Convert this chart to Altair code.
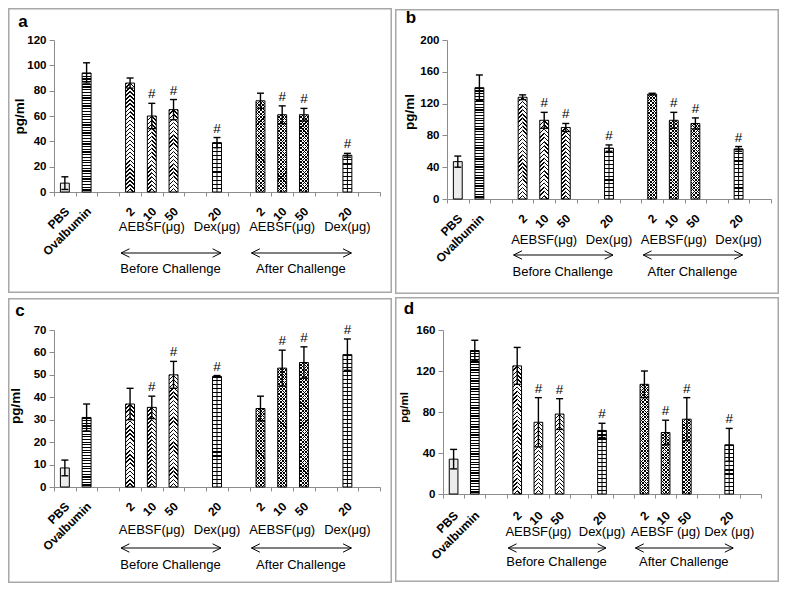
import math
import altair as alt

# ---------------- data ----------------
x_slots = ["PBS", "Ovalbumin", " ", "2", "10", "50", "  ", "20", "   ",
           "2 ", "10 ", "50 ", "    ", "20 ", "     "]
bar_cats = ["PBS", "Ovalbumin", "2", "10", "50", "20", "2 ", "10 ", "50 ", "20 "]
bar_groups = ["pbs", "ova", "bA", "bA", "bA", "dex", "aA", "aA", "aA", "dex"]

a_vals = [7, 94, 86, 60, 65, 39, 72, 61, 61, 29]
a_errs = [5, 8, 4, 10, 8, 4, 6, 7, 5, 1.5]
a_sig = [0, 0, 0, 1, 1, 1, 0, 1, 1, 1]
a_ticks = [0, 20, 40, 60, 80, 100, 120]

b_vals = [47, 140, 128, 99, 90, 64, 132, 99, 95, 63]
b_errs = [7, 16, 3, 10, 5, 4, 1, 10, 7, 3]
b_sig = [0, 0, 0, 1, 1, 1, 0, 1, 1, 1]
b_ticks = [0, 40, 80, 120, 160, 200]

c_vals = [8.5, 31, 37, 35.5, 50, 49.3, 35, 53, 55.5, 59]
c_errs = [3.5, 6, 7, 5, 6, 0.4, 5.5, 8, 7, 7]
c_sig = [0, 0, 0, 1, 1, 1, 0, 1, 1, 1]
c_ticks = [0, 10, 20, 30, 40, 50, 60, 70]

d_vals = [34, 140, 125, 70, 78, 62, 107, 60, 73, 48]
d_errs = [9.5, 10, 18, 24, 15, 7, 13, 12, 21, 16]
d_sig = [0, 0, 0, 1, 1, 1, 0, 1, 1, 1]
d_ticks = [0, 40, 80, 120, 160]

group_label_cats = ["10", "20", "10 ", "20 "]
group_labels_std = ["AEBSF(μg)", "Dex(μg)", "AEBSF(μg)", "Dex(μg)"]
group_labels_d = ["AEBSF(μg)", "Dex(μg)", "AEBSF (μg)", "Dex (μg)"]
arrow_starts = ["2", "2 "]
arrow_ends = ["20", "20 "]
phase_cats = ["50", "50 "]
phase_labels = ["Before Challenge", "After Challenge"]
y_title = "pg/ml"

# ---------------- styling helpers ----------------
FONT = "Liberation Sans"
AXIS_GRAY = "#8c8c8c"
BORDER_GRAY = "#a8a8a8"
BOX_W, BOX_H = 384, 285
CLEAR = "rgba(255,255,255,0)"


def stripe_stops(n, frac, ink, bg):
    n = max(1, int(round(n)))
    stops = []
    for i in range(n):
        o0, o1, o2 = i / n, (i + frac) / n, (i + 1) / n
        stops += [{"offset": round(o0, 5), "color": ink},
                  {"offset": round(o1, 5), "color": ink},
                  {"offset": round(o1, 5), "color": bg},
                  {"offset": round(o2, 5), "color": bg}]
    return stops


def horiz_lines(h, period, frac, ink="black", bg="white"):
    return {"gradient": "linear", "x1": 0, "y1": 0, "x2": 0, "y2": 1,
            "stops": stripe_stops(h / period, frac, ink, bg)}


def diag_lines(w, h, period, frac, kind, ink="black", bg=CLEAR):
    k = (w + h) / (w * w + h * h)
    a, b = w * k, h * k
    n = (w + h) / (period * math.sqrt(2))
    if kind == "/":
        x1, y1, x2, y2 = 0, 0, a, b
    elif kind == "\\":
        x1, y1, x2, y2 = 0, 1, a, 1 - b
    else:  # mirrored "\" starting top-right
        x1, y1, x2, y2 = 1, 0, 1 - a, b
    return {"gradient": "linear", "x1": x1, "y1": y1, "x2": round(x2, 5), "y2": round(y2, 5),
            "stops": stripe_stops(n, frac, ink, bg)}


def make_rows(vals, errs, sig, ymax, W, H):
    bw = W / len(x_slots) * 0.41
    rows = []
    for cat, g, v, e, s in zip(bar_cats, bar_groups, vals, errs, sig):
        h = max(v / ymax * H, 1)
        f = [CLEAR] * 5
        if g == "pbs":
            f[0] = "#ececec"
        elif g == "ova":
            f[0] = horiz_lines(h, 2.7, 0.45)
        elif g == "dex":
            f[0] = horiz_lines(h, 4.0, 0.28)
        elif g == "aA":
            f[0] = "white"
            f[1] = diag_lines(bw, h, 2.4, 0.3, "/")
            f[2] = diag_lines(bw, h, 2.4, 0.3, "\\")
        elif g == "bA":
            f[0] = "white"
            f[3] = diag_lines(bw / 2, h, 2.9, 0.34, "/")
            f[4] = diag_lines(bw / 2, h, 2.9, 0.34, "m")
        rows.append({"cat": cat, "grp": g, "v": v, "lo": v - e, "hi": v + e, "sig": s,
                     "f0": f[0], "f1": f[1], "f2": f[2], "f3": f[3], "f4": f[4]})
    return rows, bw


def panel(letter, vals, errs, sig, ymax, ticks, left, top, W, H, text_dy, group_labels,
          title_x, title_dy, title_size, letter_pos, lpad):
    rows, bw = make_rows(vals, errs, sig, ymax, W, H)
    base = alt.Chart(alt.Data(values=rows))
    xs = alt.Scale(type="band", domain=x_slots, paddingInner=0, paddingOuter=0)
    xaxis = alt.Axis(title=None, labelExpr="trim(datum.label)", labelPadding=lpad,
                     labelOverlap=False, tickBand="extent", labelAngle=315,
                     labelAlign="right", labelBaseline="middle", labelFontSize=12,
                     tickSize=4, labelOffset=2)
    ys = alt.Scale(domain=[0, ymax], nice=False, zero=True)
    yaxis = alt.Axis(values=ticks, title=y_title, titleX=title_x, titleY=H / 2 + title_dy,
                     titleFontSize=title_size, labelFontSize=11.5, tickSize=5, labelPadding=3)

    def X(f):
        return alt.X(f, type="nominal", scale=xs, axis=xaxis)

    def Y(f):
        return alt.Y(f, type="quantitative", scale=ys, axis=yaxis, stack=None)

    one = alt.Data(values=[{"t": letter}])
    border = alt.Chart(one).mark_rect(fillOpacity=0, stroke=BORDER_GRAY, strokeWidth=1.5).encode(
        x=alt.value(-left + 0.75), x2=alt.value(BOX_W - left - 0.75),
        y=alt.value(-top + 0.75), y2=alt.value(BOX_H - top - 0.75))
    lab = alt.Chart(one).mark_text(font=FONT, fontSize=17, fontWeight="bold", color="black").encode(
        x=alt.value(letter_pos[0]), y=alt.value(letter_pos[1]), text="t:N")

    layers = [border, lab]
    layers.append(base.mark_bar(width=bw).encode(x=X("cat"), y=Y("v"), fill=alt.Fill("f0:N", scale=None)))
    layers.append(base.mark_bar(width=bw).encode(x=X("cat"), y=Y("v"), fill=alt.Fill("f1:N", scale=None)))
    layers.append(base.mark_bar(width=bw).encode(x=X("cat"), y=Y("v"), fill=alt.Fill("f2:N", scale=None)))
    layers.append(base.mark_bar(width=bw / 2, xOffset=-bw / 4).encode(
        x=X("cat"), y=Y("v"), fill=alt.Fill("f3:N", scale=None)))
    layers.append(base.mark_bar(width=bw / 2, xOffset=bw / 4).encode(
        x=X("cat"), y=Y("v"), fill=alt.Fill("f4:N", scale=None)))
    layers.append(base.transform_filter("datum.grp == 'dex'").mark_rule(color="black", strokeWidth=1).encode(
        x=X("cat"), y=Y("v"), y2=alt.datum(0)))
    layers.append(base.mark_bar(width=bw, fillOpacity=0, stroke="black", strokeWidth=1).encode(
        x=X("cat"), y=Y("v")))
    layers.append(base.mark_rule(color="black", strokeWidth=1.4).encode(
        x=X("cat"), y=Y("lo"), y2=alt.Y2("hi")))
    layers.append(base.mark_tick(orient="horizontal", size=7, thickness=1.4, color="black", opacity=1).encode(
        x=X("cat"), y=Y("hi")))
    layers.append(base.mark_tick(orient="horizontal", size=7, thickness=1.4, color="black", opacity=1).encode(
        x=X("cat"), y=Y("lo")))
    layers.append(base.transform_filter("datum.sig == 1").mark_text(
        text="#", baseline="bottom", dy=-2, fontSize=13.5, font=FONT, color="black").encode(
        x=X("cat"), y=Y("hi")))

    gl = alt.Data(values=[{"cat": c, "t": t} for c, t in zip(group_label_cats, group_labels)])
    layers.append(alt.Chart(gl).mark_text(font=FONT, fontSize=13, color="black").encode(
        x=X("cat"), y=alt.value(H + text_dy[0]), text="t:N"))
    ar = alt.Data(values=[{"s": s, "e": e} for s, e in zip(arrow_starts, arrow_ends)])
    r = math.sqrt(70) / 2
    layers.append(alt.Chart(ar).mark_rule(color="black", strokeWidth=1, xOffset=-9, x2Offset=4).encode(
        x=X("s"), x2=alt.X2("e"), y=alt.value(H + text_dy[1])))
    layers.append(alt.Chart(ar).mark_point(shape="M1,-1L-1,0L1,1", filled=False, size=70, color="black",
                                           strokeWidth=1, opacity=1, xOffset=-9 + r).encode(
        x=X("s"), y=alt.value(H + text_dy[1])))
    layers.append(alt.Chart(ar).mark_point(shape="M-1,-1L1,0L-1,1", filled=False, size=70, color="black",
                                           strokeWidth=1, opacity=1, xOffset=4 - r).encode(
        x=X("e"), y=alt.value(H + text_dy[1])))
    ph = alt.Data(values=[{"cat": c, "t": t} for c, t in zip(phase_cats, phase_labels)])
    layers.append(alt.Chart(ph).mark_text(font=FONT, fontSize=13, color="black", xOffset=-3).encode(
        x=X("cat"), y=alt.value(H + text_dy[2]), text="t:N"))

    return alt.layer(*layers).properties(width=W, height=H)


pa = panel("a", a_vals, a_errs, a_sig, 120, a_ticks, 46, 32, 326, 152, (35, 61, 77), group_labels_std,
           -28, 0, 13.5, (-31, -18), 13)
pb = panel("b", b_vals, b_errs, b_sig, 200, b_ticks, 52, 31, 324, 159, (41, 56, 73), group_labels_std,
           -31, -8, 13.5, (-36, -22), 13)
pc = panel("c", c_vals, c_errs, c_sig, 70, c_ticks, 46, 32, 326, 157, (43, 61, 78), group_labels_std,
           -32, -3, 13.5, (-34, -19), 13)
pd = panel("d", d_vals, d_errs, d_sig, 160, d_ticks, 48, 33, 318, 164, (38, 54, 68), group_labels_d,
           -34, -5, 11.5, (-34, -21), 15)

chart = alt.vconcat(
    alt.hconcat(pa, pb, spacing=3),
    alt.hconcat(pc, pd, spacing=3),
    spacing=3,
).properties(padding=0, background="white").configure(font=FONT).configure_view(stroke=None).configure_axis(
    labelFont=FONT, labelFontWeight="bold", labelColor="black", titleFont=FONT, titleFontWeight="bold",
    titleColor="black", domainColor=AXIS_GRAY, tickColor=AXIS_GRAY, grid=False)

chart.save("out.html", embed_options={"renderer": "svg", "actions": False})
